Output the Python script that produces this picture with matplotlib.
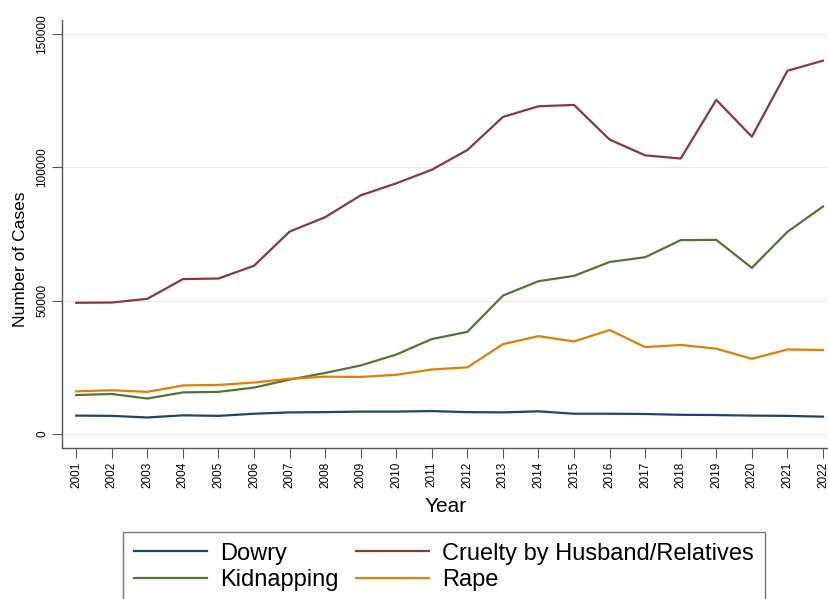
import matplotlib
matplotlib.use("Agg")
import matplotlib.pyplot as plt

plt.rcParams['font.family'] = ['Liberation Sans', 'DejaVu Sans']

years = list(range(2001, 2023))
dowry = [6900, 6800, 6200, 7000, 6800, 7600, 8100, 8200, 8400, 8400, 8600, 8200,
         8100, 8500, 7600, 7600, 7500, 7200, 7100, 6900, 6800, 6500]
cruelty = [49200, 49300, 50700, 58100, 58300, 63100, 75900, 81300, 89500, 94000, 99100, 106500,
           118900, 122900, 123400, 110400, 104500, 103300, 125300, 111500, 136200, 140000]
kidnapping = [14600, 15000, 13300, 15600, 15800, 17400, 20400, 22900, 25700, 29800, 35600, 38300,
              51900, 57300, 59300, 64500, 66300, 72700, 72800, 62300, 75800, 85300]
rape = [16000, 16400, 15800, 18200, 18400, 19300, 20700, 21500, 21400, 22200, 24200, 25000,
        33700, 36700, 34700, 39000, 32600, 33400, 32000, 28200, 31700, 31500]

fig = plt.figure(figsize=(8.29, 5.99), dpi=100)
ax = fig.add_axes([62/829, 151/599, (829-62)/829, (448-20)/599])

l_dowry, = ax.plot(years, dowry, color='#1a476f', lw=1.6, label='Dowry')
l_cruel, = ax.plot(years, cruelty, color='#90353b', lw=1.6, label='Cruelty by Husband/Relatives')
l_kid, = ax.plot(years, kidnapping, color='#55752f', lw=1.6, label='Kidnapping')
l_rape, = ax.plot(years, rape, color='#e37e00', lw=1.6, label='Rape')

ax.set_xlim(2000.6, 2022.17)
ax.set_ylim(-5250, 155250)
ax.set_yticks([0, 50000, 100000, 150000])
ax.set_xticks(years)
ax.tick_params(axis='y', labelrotation=90, labelsize=8.5, length=7, color='#555555', pad=3)
ax.tick_params(axis='x', labelrotation=90, labelsize=8.5, length=7, color='#555555', pad=3)
for lab in ax.get_yticklabels():
    lab.set_va('center')
ax.grid(axis='y', color='#eaeaea', lw=0.8)
ax.set_axisbelow(True)
for s in ['top', 'right']:
    ax.spines[s].set_visible(False)
for s in ['left', 'bottom']:
    ax.spines[s].set_color('#555555')
    ax.spines[s].set_linewidth(1.0)

ax.set_xlabel('Year', fontsize=15, labelpad=6)
ax.set_ylabel('Number of Cases', fontsize=12.5)
ax.yaxis.set_label_coords(-34/767, (448-259)/428)

# column-major fill -> order so rows read Dowry/Cruelty, Kidnapping/Rape
handles = [l_dowry, l_kid, l_cruel, l_rape]
leg = fig.legend(handles, [h.get_label() for h in handles],
                 loc='upper left', bbox_to_anchor=(123/829, 1 - 532/599), ncol=2,
                 fontsize=17, frameon=True, fancybox=False, edgecolor='#555555',
                 handlelength=3.1, handletextpad=0.55, columnspacing=0.75,
                 borderpad=0.45, labelspacing=0.2, borderaxespad=0)
leg.get_frame().set_linewidth(1.0)

fig.savefig('out.png', dpi=100)
